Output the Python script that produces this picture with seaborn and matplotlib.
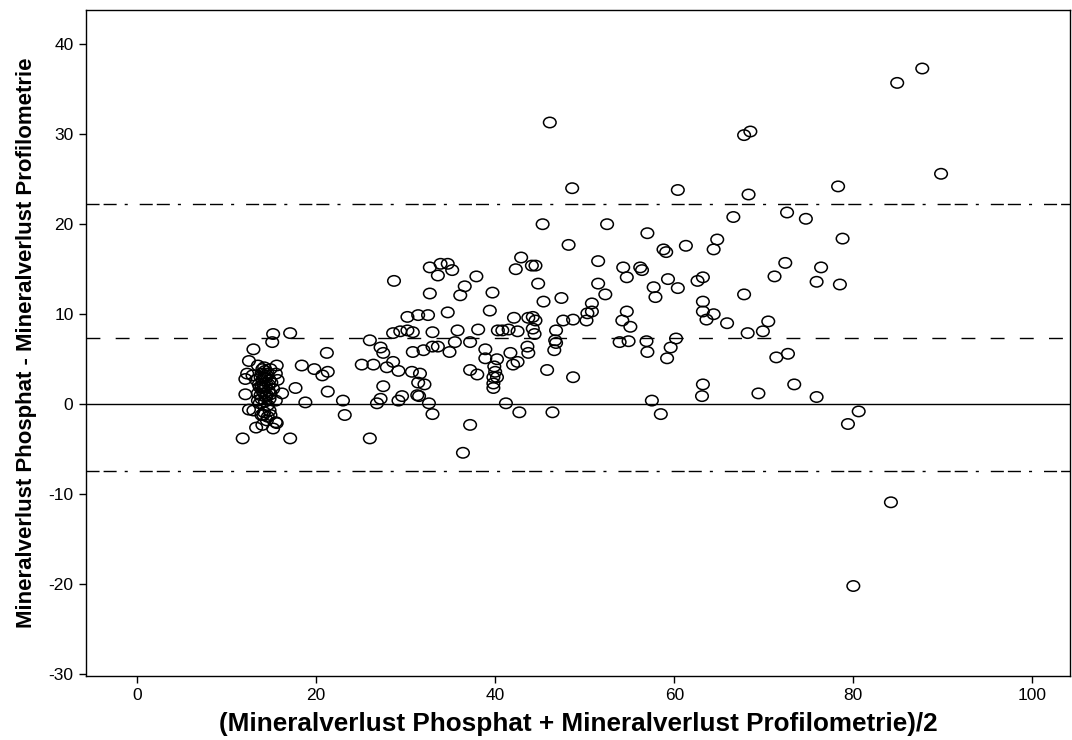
import matplotlib
matplotlib.use('Agg')
import matplotlib.pyplot as plt
from matplotlib.path import Path
import pandas as pd
import seaborn as sns


# Mittelwert beider Methoden (x) und Differenz Phosphat - Profilometrie (y)
mittelwert = [
    15.2, 15.1, 17.1, 13.0, 12.5, 12.3, 12.1, 12.1, 12.5, 13.3, 11.8, 17.1, 15.6, 14.5,
    14.1, 14.9, 13.0, 13.5, 15.6, 16.2, 17.7, 13.5, 14.2, 12.9, 13.9, 14.6, 15.5, 13.3,
    14.0, 14.8, 15.7, 13.7, 14.4, 15.2, 13.5, 14.2, 13.9, 14.8, 15.5, 13.7, 14.6, 14.2,
    14.8, 13.9, 14.6, 14.0, 15.5, 15.2, 14.1, 13.8, 14.4, 14.0, 14.5, 13.6, 14.9, 14.3,
    14.2, 14.7, 13.9, 14.5, 14.0, 14.7, 13.8, 14.3, 15.0, 14.1, 14.4, 14.9,
    18.4, 19.8, 20.7, 21.3, 21.2, 21.3, 18.8, 23.0, 23.2,
    26.0, 26.0, 27.2, 27.5, 28.6, 25.1, 26.4, 27.9, 29.2, 30.7, 27.5, 27.2, 26.8, 29.2,
    29.6, 31.3, 28.6, 29.4, 30.2, 30.8, 30.8, 31.4, 28.7, 30.2, 31.4,
    48.2, 42.9, 42.3, 44.1, 44.5, 32.7, 33.9, 34.7, 35.2, 33.6, 37.9, 36.6, 36.1, 39.7,
    32.7, 44.8, 45.4, 47.4, 51.5, 51.5, 39.4, 34.7, 32.5, 42.1, 43.7, 44.2, 44.5, 47.6,
    48.7, 50.3, 50.8, 50.2, 50.8, 33.0, 35.8, 38.1, 40.3, 40.8, 41.5, 42.5, 44.2, 44.4,
    46.8, 46.7, 46.8, 32.0, 33.0, 33.6, 34.9, 35.5, 37.2, 38.9, 38.9, 40.2, 41.7, 43.6,
    43.7, 46.6, 31.6, 32.1, 31.5, 32.6, 33.0, 37.2, 38.0, 39.9, 40.0, 40.2, 39.8, 39.8,
    39.8, 42.0, 42.5, 45.8, 48.7, 41.2, 42.7, 46.4, 37.2, 36.4, 46.1, 48.6, 45.3,
    60.4, 68.3, 52.5, 66.6, 57.0, 58.8, 59.1, 61.3, 64.8, 64.4, 54.3, 56.2, 56.4, 54.7,
    59.3, 62.6, 63.2, 71.2, 57.7, 60.4, 52.3, 57.9, 67.8, 54.7, 54.2, 55.1, 63.2, 63.2,
    64.4, 63.6, 65.9, 70.5, 69.9, 68.2, 53.9, 54.9, 56.9, 57.0, 60.2, 59.6, 59.2, 71.4,
    63.2, 63.1, 69.4, 57.5, 58.5,
    72.6, 74.7, 78.3, 78.8, 72.4, 76.4, 75.9, 78.5, 72.7, 73.4, 75.9, 80.6, 79.4, 84.2,
    80.0, 89.8, 84.9, 87.7, 67.8, 68.5,
]
differenz = [
    7.8, 6.9, 7.9, 6.1, 4.8, 3.4, 2.8, 1.1, -0.6, -2.6, -3.8, -3.8, -2.1, -1.8,
    -1.2, -1.2, -0.7, 0.4, 4.3, 1.2, 1.8, 4.3, 4.1, 3.2, 3.4, 3.4, 3.4, 2.7,
    2.7, 2.7, 2.7, 1.9, 1.9, 1.7, 1.2, 1.2, 0.6, 0.6, 0.4, 0.1, -0.1, -0.9,
    -0.7, -1.2, -1.4, -2.3, -2.0, -2.7, 2.3, 3.0, 2.9, 1.5, 1.0, 2.2, 3.9, 3.7,
    3.0, 2.2, 2.0, 3.2, 3.9, 1.5, 1.0, 0.3, 2.4, 1.8, 0.8, 1.1,
    4.3, 3.9, 3.2, 3.6, 5.7, 1.4, 0.2, 0.4, -1.2,
    -3.8, 7.1, 6.3, 5.7, 4.7, 4.4, 4.4, 4.1, 3.7, 3.6, 2.0, 0.6, 0.1, 0.4,
    0.9, 1.0, 7.9, 8.1, 8.2, 8.0, 5.8, 2.4, 13.7, 9.7, 9.9,
    17.7, 16.3, 15.0, 15.4, 15.4, 15.2, 15.6, 15.6, 14.9, 14.3, 14.2, 13.1, 12.1, 12.4,
    12.3, 13.4, 11.4, 11.8, 15.9, 13.4, 10.4, 10.2, 9.9, 9.6, 9.6, 9.7, 9.3, 9.3,
    9.4, 10.1, 10.3, 9.3, 11.2, 8.0, 8.2, 8.3, 8.2, 8.2, 8.3, 8.1, 8.4, 7.8,
    8.2, 7.1, 6.8, 6.0, 6.4, 6.4, 5.8, 6.9, 6.9, 6.1, 5.1, 5.0, 5.7, 6.4,
    5.7, 6.0, 3.4, 2.2, 0.9, 0.1, -1.1, 3.8, 3.3, 4.2, 3.6, 3.0, 3.0, 2.3,
    1.8, 4.4, 4.7, 3.8, 3.0, 0.1, -0.9, -0.9, -2.3, -5.4, 31.3, 24.0, 20.0,
    23.8, 23.3, 20.0, 20.8, 19.0, 17.2, 16.9, 17.6, 18.3, 17.2, 15.2, 15.2, 14.9, 14.1,
    13.9, 13.7, 14.1, 14.2, 13.0, 12.9, 12.2, 11.9, 12.2, 10.3, 9.3, 8.6, 11.4, 10.3,
    10.0, 9.4, 9.0, 9.2, 8.1, 7.9, 6.9, 7.0, 7.0, 5.8, 7.3, 6.3, 5.1, 5.2,
    2.2, 0.9, 1.2, 0.4, -1.1,
    21.3, 20.6, 24.2, 18.4, 15.7, 15.2, 13.6, 13.3, 5.6, 2.2, 0.8, -0.8, -2.2, -10.9,
    -20.2, 25.6, 35.7, 37.3, 29.9, 30.3,
]

# Referenzlinien
mittlere_differenz = 7.4
obere_grenze = 22.2
untere_grenze = -7.4

x_ticks = [0, 20, 40, 60, 80, 100]
y_ticks = [-30, -20, -10, 0, 10, 20, 30, 40]

df = pd.DataFrame({'mittel': mittelwert, 'diff': differenz})

sns.set_theme(style='ticks')
plt.rcParams['font.family'] = ['Liberation Sans', 'DejaVu Sans']
plt.rcParams['axes.unicode_minus'] = False

fig = plt.figure(figsize=(10.72, 7.40), dpi=100)
fig.patch.set_facecolor('white')
ax = fig.add_axes([86 / 1072, 64 / 740, (1070 - 86) / 1072, (676 - 10) / 740])
ax.set_facecolor('white')

# leicht ovale Kreise wie im Original
kreis = Path.unit_circle()
oval = Path(kreis.vertices * [1.0, 0.83], kreis.codes)

ax.axhline(0, color='black', lw=1.0, zorder=1)
ax.axhline(mittlere_differenz, color='black', lw=1.0, dashes=(10, 11), zorder=1)
for grenze in [obere_grenze, untere_grenze]:
    ax.axhline(grenze, color='black', lw=1.0, dashes=(9.4, 2.9, 9.4, 5.8, 2.2, 8.6), zorder=1)

sns.scatterplot(data=df, x='mittel', y='diff', marker=oval, s=82,
                facecolors='none', edgecolor='black', linewidth=1.1, ax=ax, zorder=3)

ax.set_xlim(-5.7, 104.2)
ax.set_ylim(-30.2, 43.8)
ax.set_xticks(x_ticks)
ax.set_yticks(y_ticks)

for sp in ax.spines.values():
    sp.set_visible(True)
    sp.set_color('black')
    sp.set_linewidth(1.0)
ax.tick_params(axis='both', direction='out', length=5, width=1.0, colors='black',
               labelsize=12.5, pad=4)

schrift = ['Liberation Sans', 'DejaVu Sans']
ax.set_xlabel('(Mineralverlust Phosphat + Mineralverlust Profilometrie)/2', labelpad=6,
              family=schrift, weight='bold', size=18.8, color='black')
ax.set_ylabel('Mineralverlust Phosphat - Mineralverlust Profilometrie', labelpad=8,
              family=schrift, weight='bold', size=16, color='black')

fig.savefig('out.png', dpi=100)
